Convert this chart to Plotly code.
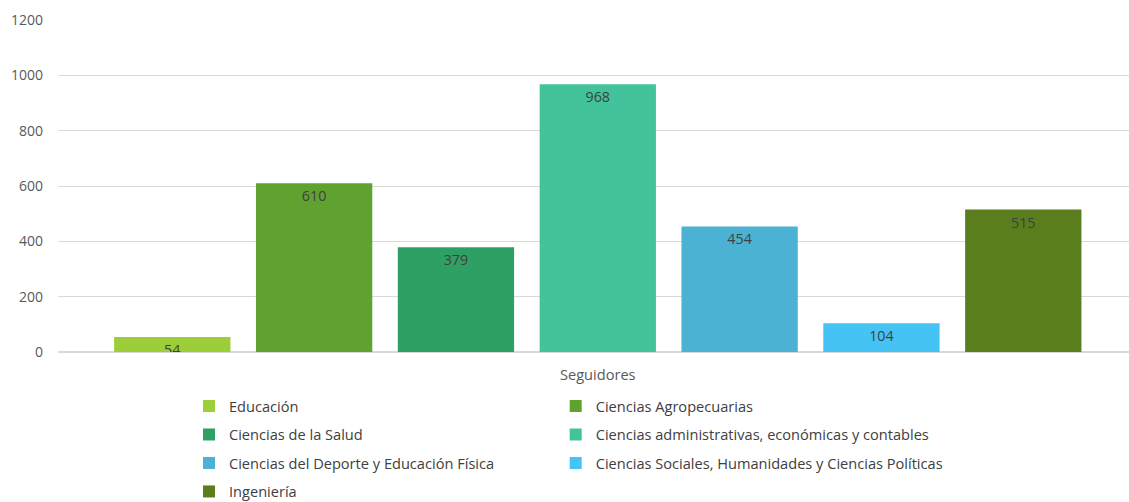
import plotly.graph_objects as go

categories = ["Seguidores"]
series_names = [
    "Educación",
    "Ciencias Agropecuarias",
    "Ciencias de la Salud",
    "Ciencias administrativas, económicas y contables",
    "Ciencias del Deporte y Educación Física",
    "Ciencias Sociales, Humanidades y Ciencias Políticas",
    "Ingeniería",
]
series_values = [54, 610, 379, 968, 454, 104, 515]
colors = ["#9bce38", "#5fa230", "#2fa064", "#42c39b", "#4bb2d4", "#45c3f4", "#5a7d1d"]
legend_column = ["legend", "legend2", "legend", "legend2", "legend", "legend2", "legend"]
y_ticks = [0, 200, 400, 600, 800, 1000, 1200]

FONT = "Open Sans"

fig = go.Figure()
for i, (name, val, col, lg) in enumerate(zip(series_names, series_values, colors, legend_column)):
    fig.add_trace(go.Bar(
        name=name, x=categories, y=[val],
        legend=lg, legendgroup="g%d" % i,
        marker=dict(color=col, line=dict(width=0)),
        text=[str(val)], textposition="inside", insidetextanchor="end",
        constraintext="none", textangle=0,
        textfont=dict(family=FONT, size=14.3, color="#404040"),
    ))

legend_common = dict(
    orientation="v", yanchor="top", xanchor="left",
    traceorder="grouped", tracegroupgap=6.5,
    font=dict(family=FONT, size=14.6, color="#404040"),
    bgcolor="rgba(0,0,0,0)", borderwidth=0,
)

fig.update_layout(
    width=1129, height=502,
    margin=dict(l=58, r=0, t=20, b=150, autoexpand=False),
    paper_bgcolor="white", plot_bgcolor="white",
    barmode="group", bargap=0.073, bargroupgap=0.18,
    font=dict(family=FONT, size=14, color="#595959"),
    showlegend=True,
    legend=dict(x=0.1223, y=-0.1145, **legend_common),
    legend2=dict(x=0.4647, y=-0.1145, **legend_common),
    xaxis=dict(range=[-0.504, 0.496], showgrid=False, showline=False, ticks="",
               automargin=False, ticklabelstandoff=12,
               tickfont=dict(family=FONT, size=14.6, color="#595959")),
    yaxis=dict(range=[0, 1200], tickvals=y_ticks, showgrid=True, gridcolor="#d9d9d9",
               gridwidth=1, zeroline=True, zerolinecolor="#d9d9d9", showline=False,
               ticks="", ticklabelstandoff=14, automargin=False,
               tickfont=dict(family=FONT, size=14, color="#595959")),
)

fig.write_html(
    "out.html",
    config={"displayModeBar": False},
    post_script="document.body.style.margin='0';document.body.style.padding='0';",
)
